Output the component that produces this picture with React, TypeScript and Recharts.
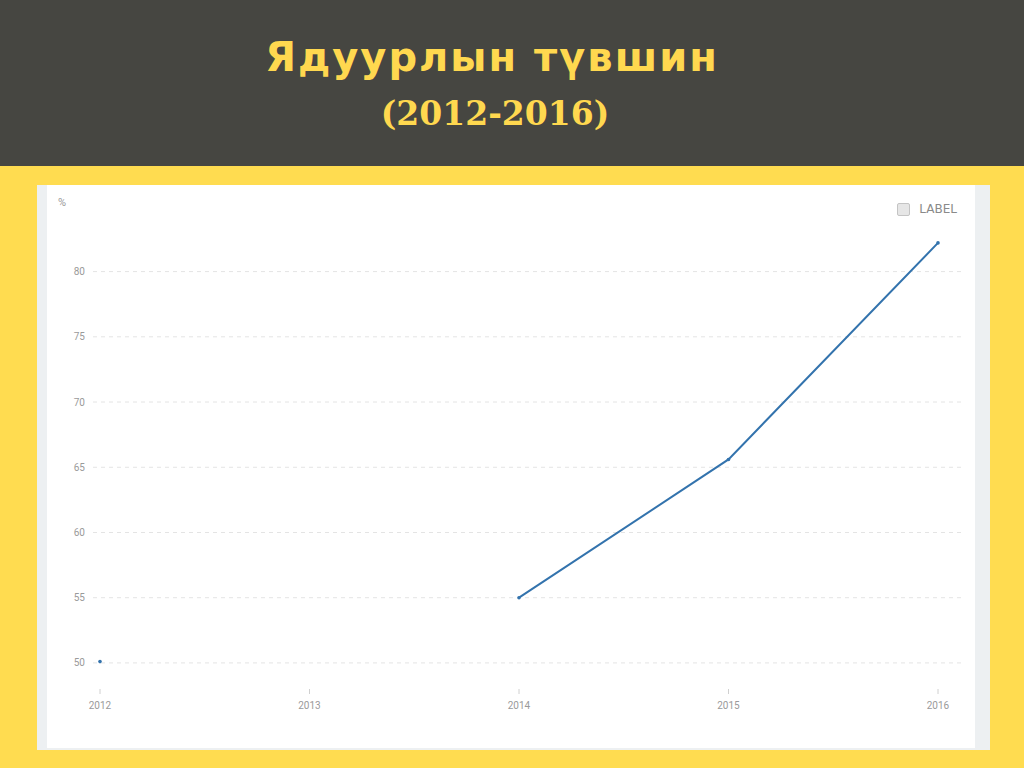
import { Line, LineChart, ReferenceLine, XAxis, YAxis } from "recharts";

const years = [2012, 2013, 2014, 2015, 2016];
const povertyRate: (number | null)[] = [50.1, null, 55.0, 65.6, 82.2];
const yTicks = [50, 55, 60, 65, 70, 75, 80];

const chartData = years.map((year, i) => ({ year, value: povertyRate[i] }));

const lineColor = "#3373ad";

function LegendBox() {
  return (
    <div
      style={{
        position: "absolute",
        right: 18,
        top: 17,
        display: "flex",
        alignItems: "center",
        gap: 9,
        fontFamily: "'DejaVu Sans', sans-serif",
      }}
    >
      <span
        style={{
          width: 11,
          height: 11,
          borderRadius: 2,
          border: "1px solid #c4c4c4",
          background: "#e6e6e6",
          display: "inline-block",
        }}
      />
      <span style={{ fontSize: 12, color: "#8a8a8a" }}>LABEL</span>
    </div>
  );
}

export default function App() {
  return (
    <div
      style={{
        position: "absolute",
        left: 0,
        top: 0,
        width: 1024,
        height: 768,
        background: "#ffdc50",
        overflow: "hidden",
      }}
    >
      <div
        style={{
          position: "absolute",
          left: 0,
          top: 0,
          width: 1024,
          height: 166,
          background: "#464641",
        }}
      />
      <div
        style={{
          position: "absolute",
          left: 0,
          top: 34,
          width: 984,
          textAlign: "center",
          color: "#ffd84f",
          fontFamily: "'DejaVu Sans', sans-serif",
          fontWeight: 700,
          fontSize: 40,
          letterSpacing: 2,
          lineHeight: "46px",
        }}
      >
        Ядуурлын түвшин
      </div>
      <div
        style={{
          position: "absolute",
          left: 0,
          top: 92,
          width: 990,
          textAlign: "center",
          color: "#ffd84f",
          fontFamily: "'DejaVu Serif', serif",
          fontWeight: 700,
          fontSize: 33,
          lineHeight: "44px",
        }}
      >
        (2012-2016)
      </div>

      <div
        style={{
          position: "absolute",
          left: 37,
          top: 185,
          width: 953,
          height: 565,
          background: "#edf0f2",
        }}
      />
      <div
        style={{
          position: "absolute",
          left: 47,
          top: 185,
          width: 928,
          height: 563,
          background: "#ffffff",
        }}
      >
        <div
          style={{
            position: "absolute",
            left: 11,
            top: 11,
            fontSize: 11,
            color: "#999",
            fontFamily: "Roboto, sans-serif",
          }}
        >
          %
        </div>
        <LegendBox />
        <LineChart
          width={928}
          height={563}
          data={chartData}
          margin={{ top: 54, right: 12, bottom: 14, left: 0 }}
        >
          <XAxis
            dataKey="year"
            type="number"
            domain={[2012, 2016]}
            ticks={years}
            padding={{ left: 7, right: 25 }}
            axisLine={false}
            tickLine={{ stroke: "#d0d0d0" }}
            tickSize={5}
            tickMargin={8}
            height={45}
            tick={{ fontSize: 10, fill: "#9a9a9a", fontFamily: "Roboto, sans-serif" }}
          />
          <YAxis
            domain={[48, 82.5]}
            ticks={yTicks}
            axisLine={false}
            tickLine={false}
            tickSize={0}
            tickMargin={8}
            width={46}
            tick={{ fontSize: 10, fill: "#9a9a9a", fontFamily: "Roboto, sans-serif" }}
          />
          {yTicks.map((t) => (
            <ReferenceLine key={t} y={t} stroke="#e4e4e4" strokeDasharray="4 4" />
          ))}
          <Line
            type="linear"
            dataKey="value"
            stroke={lineColor}
            strokeWidth={2}
            connectNulls={false}
            dot={{ r: 1.8, fill: lineColor, stroke: lineColor, strokeWidth: 0 }}
            activeDot={false}
            isAnimationActive={false}
          />
        </LineChart>
      </div>
    </div>
  );
}
